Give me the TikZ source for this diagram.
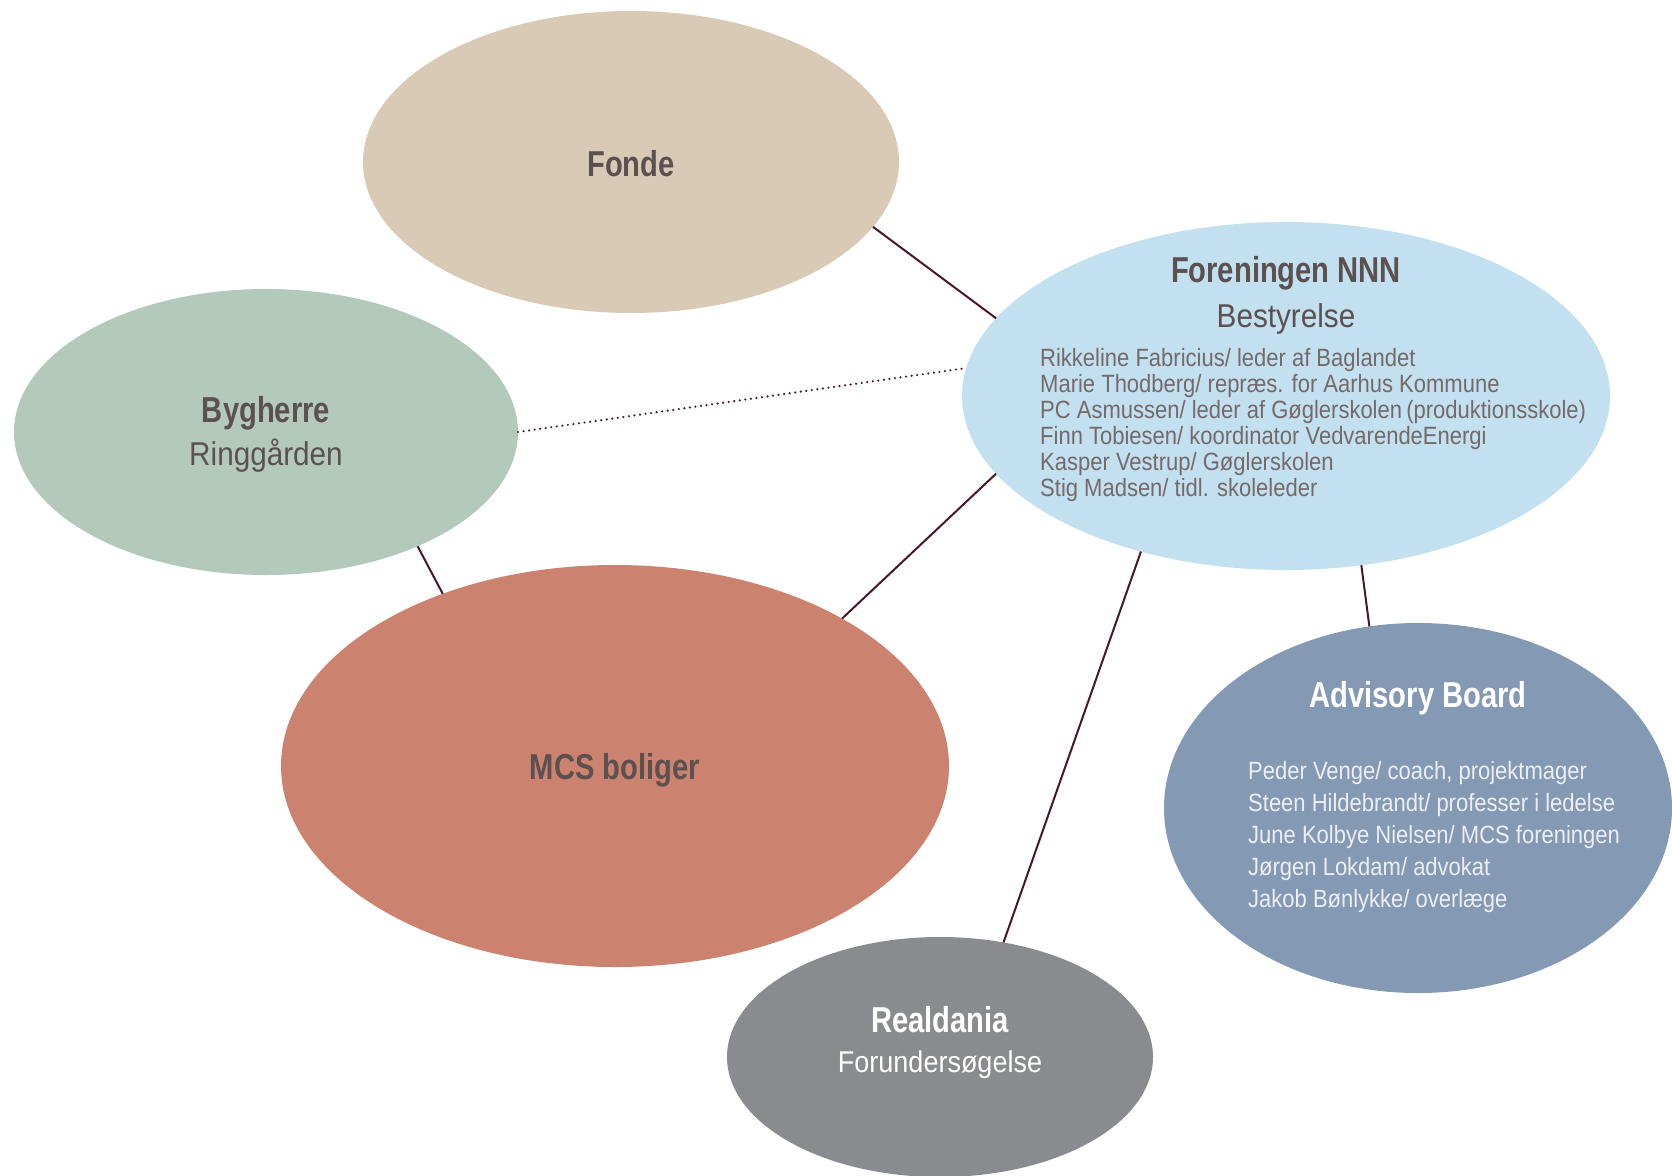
\documentclass[tikz,border=0pt]{standalone}
\usepackage{fontspec}
\setmainfont{Liberation Sans}[FakeStretch=0.68]
\newfontfamily\titlefont{Liberation Sans}[FakeStretch=0.81]
\newfontfamily\subfont{Liberation Sans}[FakeStretch=0.9]
\newfontfamily\listfont{Liberation Sans}[FakeStretch=0.88]
\usetikzlibrary{shapes.geometric}
\definecolor{cfonde}{RGB}{217,202,182}
\definecolor{cforen}{RGB}{194,224,239}
\definecolor{cbyg}{RGB}{178,201,188}
\definecolor{cmcs}{RGB}{203,130,110}
\definecolor{cadv}{RGB}{132,153,180}
\definecolor{creal}{RGB}{138,139,143}
\definecolor{ctext}{RGB}{92,80,80}
\definecolor{clink}{RGB}{72,24,36}
\definecolor{cadvlist}{RGB}{236,238,243}
\begin{document}
\begin{tikzpicture}[x=1pt,y=-1pt,
  blob/.style={ellipse, draw=none, inner sep=0pt, outer sep=0pt},
  link/.style={draw=clink, line width=2pt},
  dotlink/.style={draw=clink, line width=2.4pt, line cap=round, dash pattern=on 0pt off 5.6pt},
  title/.style={inner sep=0pt, anchor=base, font=\titlefont\fontsize{36}{40}\selectfont\bfseries, text=ctext},
  sub/.style={inner sep=0pt, anchor=base, font=\subfont\fontsize{33}{38}\selectfont, text=ctext},
  member/.style={inner sep=0pt, anchor=base west, font=\listfont\fontsize{25}{27}\selectfont, text=ctext!85},
  advmember/.style={inner sep=0pt, anchor=base west, font=\listfont\fontsize{25}{30}\selectfont, text=cadvlist}]
\useasboundingbox (0,0) rectangle (1672,1175);
% ellipses
\node[blob, fill=cfonde, minimum width=536pt, minimum height=302pt] (fonde) at (631,162) {};
\node[blob, fill=cforen, minimum width=648pt, minimum height=348pt] (foren) at (1286,396) {};
\node[blob, fill=cbyg, minimum width=504pt, minimum height=286pt] (byg) at (266,432) {};
\node[blob, fill=cmcs, minimum width=668pt, minimum height=402pt] (mcs) at (615,766) {};
\node[blob, fill=cadv, minimum width=508pt, minimum height=370pt] (adv) at (1418,808) {};
\node[blob, fill=creal, minimum width=426pt, minimum height=240pt] (real) at (940,1057) {};
% connectors
\draw[link] (fonde.-15.3) -- (foren.165.3);
\draw[dotlink] (byg.0) -- (foren.175.9);
\draw[link] (byg.-37.4) -- (mcs.135.5);
\draw[link] (foren.-165.8) -- (mcs.33.2);
\draw[link] (foren.-133.7) -- (real.61.5);
\draw[link] (foren.-66.9) -- (adv.105.6);
% texts
\node[title] (tfonde) at (631,176) {Fonde};
\node[title] (tforen) at (1286,282) {Foreningen NNN};
\node[sub] (tbest) at (1286,327) {Bestyrelse};
\foreach \t [count=\i] in {{Rikkeline Fabricius/ leder af Baglandet},
  {Marie Thodberg/ repræs. for Aarhus Kommune},
  {PC Asmussen/ leder af Gøglerskolen\,(produktionsskole)},
  {Finn Tobiesen/ koordinator VedvarendeEnergi},
  {Kasper Vestrup/ Gøglerskolen},
  {Stig Madsen/ tidl. skoleleder}}
  \node[member] (fm\i) at (1040,{366+26*(\i-1)}) {\t};
\node[title] (tbyg) at (266,422) {Bygherre};
\node[sub] (tring) at (266,465) {Ringgården};
\node[title] (tmcs) at (615,779) {MCS boliger};
\node[title, text=white] (tadv) at (1418,707) {Advisory Board};
\foreach \t [count=\i] in {{Peder Venge/ coach, projektmager},
  {Steen Hildebrandt/ professer i ledelse},
  {June Kolbye Nielsen/ MCS foreningen},
  {Jørgen Lokdam/ advokat},
  {Jakob Bønlykke/ overlæge}}
  \node[advmember] (am\i) at (1248,{779+32*(\i-1)}) {\t};
\node[title, text=white] (treal) at (940,1032) {Realdania};
\node[sub, text=white, font=\subfont\fontsize{30}{36}\selectfont] (tfor) at (940,1072) {Forundersøgelse};
\end{tikzpicture}
\end{document}
